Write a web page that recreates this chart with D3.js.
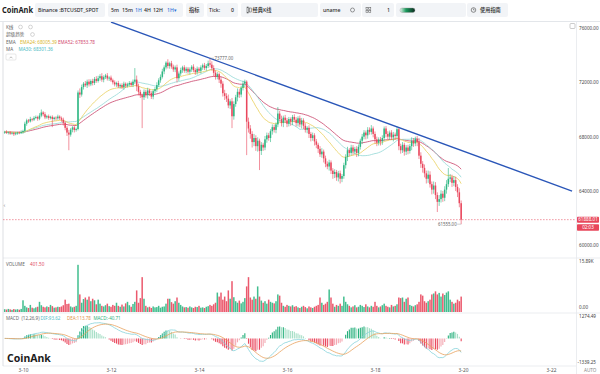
<!DOCTYPE html>
<html>
<head>
<meta charset="utf-8">
<script src="https://cdn.jsdelivr.net/npm/d3@7"></script>
<style>
body { margin: 0; background: #fff; }
svg { display: block; font-family: "Noto Sans", "Noto Sans CJK SC", sans-serif; }
</style>
</head>
<body>
<svg id="chart" width="600" height="374"></svg>
<script>
// BTCUSDT 1H candles, 2024-03-09 14:00 .. 2024-03-19 23:00
var firstOpen = 68300;
var closes = [
  68350,68280,68310,68220,68260,68180,68240,68300,68270,68340,
  68420,68950,69200,69120,69300,69250,69380,69450,69320,69550,
  69780,69650,69420,69510,69380,69460,69300,69400,69350,69480,69360,69250,
  69020,68650,68300,68150,68520,68680,68490,68560,
  71250,
  71100,71650,71900,71780,72050,71850,72100,71950,72250,72100,72300,
  72450,72200,72380,72500,72280,72350,72150,72000,71850,71950,71700,71800,71650,71900,71750,71850,71950,71800,72050,
  72200,71700,71300,71050,70900,
  71300,71050,71400,71200,70950,71350,71500,
  71800,72150,72400,72800,73100,73450,73200,73400,73150,72950,73100,72300,
  72650,72900,73100,72850,73000,72780,72950,73150,72900,72750,73000,72850,73100,73250,73050,73200,73400,
  73300,
  73050,72700,72400,72600,72200,71900,71200,71000,
  70800,70300,70600,69500,
  70400,70900,71300,71100,71600,71900,72050,
  69100,
  68600,68200,67600,67900,67300,67700,66950,67400,67200,
  67800,68100,67900,68400,68700,68500,68900,69700,
  69300,69000,69400,69200,68950,69300,69100,69450,69250,69000,
  69350,68900,69200,68800,
  68500,68650,68200,67900,68100,67650,
  67400,67100,66700,66900,66400,66000,65800,66100,65500,65250,
  65400,65000,65300,64900,65100,
  65900,66500,67000,66800,
  67200,66900,67100,66800,67250,
  67700,68000,68300,68100,68500,
  68350,68600,68200,
  67800,67550,67800,
  67650,67900,68600,
  68200,68000,68300,67950,68150,68050,
  68550,67300,
  67000,67400,66900,67200,66950,67300,
  67700,67500,67850,67600,
  66600,66000,65700,
  65300,64900,65200,64500,64100,64400,
  63700,63200,63400,
  63800,63500,64100,64500,
  64900,65000,
  64600,64800,64300,63900,
  63100,
  61888.01
];
var upWick = [
  80,120,60,100,70,90,110,60,80,120,
  90,150,120,100,160,80,130,110,90,180,
  220,100,150,90,120,80,110,70,100,140,
  90,120,150,110,130,200,120,90,140,100,
  150,300,180,120,200,150,180,120,160,140,
  200,180,150,220,130,120,180,100,150,120,
  140,100,160,110,130,150,100,120,140,110,
  160,850,300,200,150,120,180,150,200,120,
  150,130,160,200,150,180,200,150,100,250,
  120,180,150,140,200,150,180,120,160,140,
  130,150,120,180,140,160,120,150,130,180,
  150,200,377,250,200,180,150,120,200,180,
  250,200,300,150,250,200,180,250,200,150,
  200,150,100,300,250,200,300,200,250,150,
  200,150,250,200,180,150,200,180,150,480,
  200,250,150,200,180,150,120,150,200,180,
  150,200,180,150,200,120,180,150,200,150,
  180,150,200,250,150,200,180,200,150,180,
  200,150,180,200,150,180,200,250,150,200,
  180,150,200,180,150,200,180,150,200,180,
  250,150,180,200,150,180,200,150,180,200,
  150,180,200,150,200,150,180,200,150,180,
  200,150,250,200,150,200,300,250,200,250,
  200,300,250,200,300,250,200,300,250,200,
  250,300,790,250,200,300,250,200,300,200
];
var downWick = [
  100,80,120,90,70,130,80,100,90,70,
  120,100,150,110,80,130,100,90,150,110,
  120,150,130,100,140,110,600,120,150,110,
  130,150,200,180,250,1150,150,200,180,120,
  100,250,150,180,120,200,160,130,180,150,
  140,120,180,160,200,130,150,180,120,160,
  150,180,120,160,140,200,150,130,160,120,
  150,180,350,250,200,2270,200,180,250,200,
  180,200,150,200,150,180,120,200,150,180,
  200,150,180,200,300,200,180,200,150,180,
  150,200,180,150,200,180,150,200,180,150,
  200,150,200,180,250,200,180,250,300,250,
  300,250,200,250,870,250,200,300,250,200,
  200,250,2460,300,350,400,300,350,400,1410,
  300,250,200,250,200,300,250,200,250,200,
  200,250,300,200,250,200,300,250,200,250,
  250,200,300,250,200,250,300,250,200,300,
  250,300,200,250,300,250,200,300,250,350,
  300,250,300,350,250,200,250,300,250,200,
  250,200,300,250,200,250,200,300,250,200,
  200,250,300,250,200,300,250,200,250,200,
  250,200,300,250,200,300,250,200,300,250,
  250,200,300,250,200,300,250,300,350,300,
  350,300,250,350,300,300,750,300,250,300,
  250,300,200,250,300,250,300,350,300,333
];
var volumes = [
  900,800,1000,850,700,950,800,900,750,1000,
  3800,2000,1500,1300,2300,1400,1200,1500,1700,3300,
  2200,1700,1500,1800,1600,2300,1900,1400,1500,1700,
  1600,1800,2200,4000,2600,2700,1800,1500,1700,2000,
  15300,5700,3000,4200,4700,4000,5000,3500,4300,3800,
  2500,4000,2700,2000,1800,2200,2700,1900,1700,2300,
  2000,3000,2000,1700,2400,1800,2800,3300,2200,1700,
  2600,3300,7000,3000,4500,11300,4300,2000,1500,1700,
  1300,1800,1500,1600,2000,1400,1700,1800,2700,4300,
  4300,3200,2700,3500,4700,3000,2300,1800,1500,1600,
  1400,1800,1500,1300,1700,1600,2000,1400,1500,1300,
  1700,1900,2300,2000,2500,3000,6300,5000,6300,4000,
  5000,3500,7000,4300,10000,4800,3500,3000,3700,2800,
  3300,4500,8300,11300,4700,4000,5000,4300,8300,5000,
  3700,3000,3500,2700,4000,3300,3000,2800,3500,5700,
  5300,3000,2000,1700,2300,2000,1800,2200,1700,1900,
  1500,1300,1700,2000,1600,1200,1800,1500,1300,1700,
  2000,2300,4700,3000,2300,2700,3300,7300,4700,2700,
  1700,2300,2000,2700,2000,5000,3300,2500,2000,1500,
  1800,2200,1500,1700,2300,2000,1600,2500,1800,1500,
  2000,1700,3300,2000,1500,1800,2200,2700,2000,1700,
  1500,2300,1800,2000,2500,4700,4500,4700,3300,4300,
  4700,2300,2000,1800,2200,2500,3300,5700,5300,3500,
  3000,3500,4000,5700,6000,6700,5700,6200,5000,6000,
  5500,6300,6700,4000,3300,2700,3000,4000,3500,5000
];
var priceTicks = [76000, 72000, 68000, 64000, 60000];
var dateTicks = ["2024-03-10","2024-03-12","2024-03-14","2024-03-16","2024-03-18","2024-03-20","2024-03-22"];
var trendDates = ["2024-03-12T00:00","2024-03-22T11:30"];
var trendPrices = [76440, 63994];
var lastPrice = 61888.01, lowPrice = 61555.00, highPrice = 73777.00;

var UP = "#2eb783", DOWN = "#e9475d";
var svg = d3.select("#chart");
var parseDay = d3.timeParse("%Y-%m-%d"), parseMin = d3.timeParse("%Y-%m-%dT%H:%M");

var candles = closes.map(function(c, i) {
    var o = i == 0 ? firstOpen : closes[i-1];
    return {
        t: new Date(2024, 2, 9, 14 + i),
        o: o, c: c,
        h: Math.max(o, c) + upWick[i],
        l: Math.min(o, c) - downWick[i],
        v: volumes[i]
    };
});

var x = d3.scaleTime().domain([parseDay("2024-03-10"), parseDay("2024-03-20")]).range([23, 463]);
var yPrice = d3.scaleLinear().domain([60000, 76000]).range([245.3, 28]);
var yVol = d3.scaleLinear().domain([0, 15890]).range([312, 263]);
var yMacd = d3.scaleLinear().domain([-1339.25, 1274.49]).range([363, 315]);

// indicators
function ema(vals, n) {
    var k = 2 / (n + 1), out = [], prev = vals[0];
    vals.forEach(function(v, i) { prev = i == 0 ? v : v * k + prev * (1 - k); out.push(prev); });
    return out;
}
function sma(vals, n) {
    return vals.map(function(v, i) {
        var s = vals.slice(Math.max(0, i - n + 1), i + 1);
        return d3.mean(s);
    });
}
var ema24 = ema(closes, 24), ema52 = ema(closes, 52), ma30 = sma(closes, 30);
var ema12 = ema(closes, 12), ema26 = ema(closes, 26);
var dif = ema12.map(function(v, i) { return v - ema26[i]; });
var dea = ema(dif, 9);
var hist = dif.map(function(v, i) { return (v - dea[i]) * 2; });

// clip paths
var defs = svg.append("defs");
defs.append("clipPath").attr("id", "clipMain").append("rect").attr("x", 3).attr("y", 22).attr("width", 573).attr("height", 236);
defs.append("clipPath").attr("id", "clipMacd").append("rect").attr("x", 3).attr("y", 314).attr("width", 573).attr("height", 52);
var grad = defs.append("linearGradient").attr("id", "tog");
grad.append("stop").attr("offset", "0%").attr("stop-color", "#e8f6ee");
grad.append("stop").attr("offset", "40%").attr("stop-color", "#1a9a5c");
grad.append("stop").attr("offset", "100%").attr("stop-color", "#0d2a20");

// frame lines
var g_frame = svg.append("g").attr("stroke", "#e6e8ec").attr("stroke-width", 0.8);
g_frame.append("line").attr("x1", 0).attr("x2", 600).attr("y1", 21.5).attr("y2", 21.5).attr("stroke", "#dcdfe4");
g_frame.append("line").attr("x1", 3).attr("x2", 600).attr("y1", 258).attr("y2", 258);
g_frame.append("line").attr("x1", 3).attr("x2", 600).attr("y1", 313).attr("y2", 313);
g_frame.append("line").attr("x1", 3).attr("x2", 576).attr("y1", 366).attr("y2", 366);
g_frame.append("line").attr("x1", 576.5).attr("x2", 576.5).attr("y1", 22).attr("y2", 374);
g_frame.append("line").attr("x1", 3).attr("x2", 3).attr("y1", 22).attr("y2", 366).attr("stroke", "#d4d7dc");

// toolbar
var g_tool = svg.append("g");
g_tool.append("text").attr("x", 2).attr("y", 13).attr("font-size", 8.2).attr("font-weight", 700)
    .attr("textLength", 31).attr("lengthAdjust", "spacingAndGlyphs")
    .attr("fill", "#1c1c1c").text("CoinAnk");
[[35,70],[108,75],[186,18],[207,31],[241,77],[320,41],[362,32],[396,70],[467,41]].forEach(function(b) {
    g_tool.append("rect").attr("x", b[0]).attr("y", 3).attr("width", b[1]).attr("height", 14)
        .attr("rx", 2).attr("fill", "#f2f4f7");
});
var toolTxt = g_tool.append("g").attr("font-size", 5.2).attr("fill", "#2a2a2a").attr("font-weight", 500);
toolTxt.append("text").attr("x", 38).attr("y", 12).text("Binance :BTCUSDT_SPOT");
[["5m",111,"#2a2a2a"],["15m",122,"#2a2a2a"],["1H",135,"#2f6fd8"],["4H",144,"#2a2a2a"],["12H",153,"#2a2a2a"],["1H▾",167,"#2f6fd8"]]
    .forEach(function(d) { toolTxt.append("text").attr("x", d[1]).attr("y", 12).attr("fill", d[2]).text(d[0]); });
toolTxt.append("text").attr("x", 189).attr("y", 12).text("指标");
toolTxt.append("text").attr("x", 209).attr("y", 12).text("Tick:");
toolTxt.append("text").attr("x", 231).attr("y", 12).text("0");
g_tool.append("rect").attr("x", 247).attr("y", 7).attr("width", 1.6).attr("height", 6).attr("fill", "none").attr("stroke", "#444").attr("stroke-width", 0.5);
g_tool.append("rect").attr("x", 249.6).attr("y", 8).attr("width", 1.6).attr("height", 4).attr("fill", "none").attr("stroke", "#444").attr("stroke-width", 0.5);
toolTxt.append("text").attr("x", 252.5).attr("y", 12).text("经典K线");
toolTxt.append("text").attr("x", 323).attr("y", 12).text("uname");
g_tool.append("circle").attr("cx", 352.5).attr("cy", 10).attr("r", 2).attr("fill", "none").attr("stroke", "#555").attr("stroke-width", 0.6);
[[366,7.5],[368.8,7.5],[366,10.3],[368.8,10.3]].forEach(function(p) {
    g_tool.append("rect").attr("x", p[0]).attr("y", p[1]).attr("width", 2).attr("height", 2)
        .attr("fill", "none").attr("stroke", "#555").attr("stroke-width", 0.5);
});
toolTxt.append("text").attr("x", 387).attr("y", 12).text("1");
g_tool.append("rect").attr("x", 400).attr("y", 8).attr("width", 15).attr("height", 4.5).attr("rx", 2.2)
    .attr("fill", "url(#tog)").attr("stroke", "#999").attr("stroke-width", 0.4);
g_tool.append("circle").attr("cx", 473.5).attr("cy", 10).attr("r", 2.3).attr("fill", "none").attr("stroke", "#444").attr("stroke-width", 0.6);
g_tool.append("path").attr("d", "M473.5,8.6V10H474.7").attr("fill", "none").attr("stroke", "#444").attr("stroke-width", 0.5);
toolTxt.append("text").attr("x", 480).attr("y", 12).text("使用指南");

// main pane: moving averages
var g_main = svg.append("g").attr("clip-path", "url(#clipMain)");
function drawLine(g, vals, scale, color) {
    g.append("path").datum(vals)
        .attr("fill", "none").attr("stroke", color).attr("stroke-width", 0.8)
        .attr("d", d3.line().x(function(d, i) { return x(candles[i].t); }).y(function(d) { return scale(d); }));
}
drawLine(g_main, ema52, yPrice, "#c9436a");
drawLine(g_main, ma30, yPrice, "#93d8d6");
drawLine(g_main, ema24, yPrice, "#e9cf5c");

// candles
var g_candles = g_main.append("g");
candles.forEach(function(d) {
    var cx = x(d.t), col = d.c >= d.o ? UP : DOWN;
    g_candles.append("line").attr("x1", cx).attr("x2", cx)
        .attr("y1", yPrice(d.h)).attr("y2", yPrice(d.l))
        .attr("stroke", col).attr("stroke-width", 0.6);
    var top = yPrice(Math.max(d.o, d.c)), bot = yPrice(Math.min(d.o, d.c));
    g_candles.append("rect").attr("x", cx - 0.75).attr("width", 1.5)
        .attr("y", top).attr("height", Math.max(0.6, bot - top)).attr("fill", col);
});

// trend line (drawing)
var trend = trendDates.map(function(t, i) { return [x(parseMin(t)), yPrice(trendPrices[i])]; });
g_main.append("line").attr("x1", trend[0][0]).attr("y1", trend[0][1]).attr("x2", trend[1][0]).attr("y2", trend[1][1])
    .attr("stroke", "#2a56b8").attr("stroke-width", 1.3);

// last price line
svg.append("line").attr("x1", 3).attr("x2", 576).attr("y1", yPrice(lastPrice)).attr("y2", yPrice(lastPrice))
    .attr("stroke", "#e8596a").attr("stroke-width", 0.6).attr("stroke-dasharray", "1.6,1.4");

// high / low markers
var hiC = candles.reduce(function(a, b) { return b.h > a.h ? b : a; });
var loC = candles.reduce(function(a, b) { return b.l < a.l ? b : a; });
var g_mark = svg.append("g").attr("font-size", 4.4).attr("fill", "#666");
g_mark.append("line").attr("x1", x(hiC.t)).attr("x2", x(hiC.t) + 4).attr("y1", yPrice(highPrice)).attr("y2", yPrice(highPrice)).attr("stroke", "#888").attr("stroke-width", 0.4);
g_mark.append("text").attr("x", x(hiC.t) + 4.5).attr("y", yPrice(highPrice) + 1.5).text(highPrice.toFixed(2));
g_mark.append("line").attr("x1", x(loC.t) - 4).attr("x2", x(loC.t)).attr("y1", yPrice(lowPrice)).attr("y2", yPrice(lowPrice)).attr("stroke", "#888").attr("stroke-width", 0.4);
g_mark.append("text").attr("x", x(loC.t) - 4.5).attr("y", yPrice(lowPrice) + 1.5).attr("text-anchor", "end").text(lowPrice.toFixed(2));

// price axis
var yAxis = svg.append("g").attr("transform", "translate(577,0)")
    .call(d3.axisRight(yPrice).tickValues(priceTicks).tickSize(0).tickPadding(2).tickFormat(function(d) { return d.toFixed(2); }));
yAxis.select(".domain").remove();
yAxis.selectAll("text").attr("font-size", 4.6).attr("fill", "#444").attr("font-family", "Noto Sans, sans-serif");
svg.append("rect").attr("x", 570).attr("y", 23.5).attr("width", 5).attr("height", 5).attr("rx", 1)
    .attr("fill", "#fff").attr("stroke", "#999").attr("stroke-width", 0.5);

// last price boxes
var yl = yPrice(lastPrice);
svg.append("rect").attr("x", 577).attr("y", yl - 3).attr("width", 22).attr("height", 6.2).attr("rx", 0.8).attr("fill", "#e8475b");
svg.append("text").attr("x", 588).attr("y", yl + 1.6).attr("text-anchor", "middle").attr("font-size", 4.6).attr("fill", "#fff").text(lastPrice.toFixed(2));
svg.append("rect").attr("x", 577).attr("y", yl + 4.6).attr("width", 22).attr("height", 6.6).attr("rx", 0.8).attr("fill", "#e8475b");
svg.append("text").attr("x", 588).attr("y", yl + 9.4).attr("text-anchor", "middle").attr("font-size", 4.6).attr("fill", "#fff").text("02:03");

// main legend
var g_leg = svg.append("g").attr("font-size", 4.6).attr("fill", "#666");
g_leg.append("text").attr("x", 6).attr("y", 28.5).text("K线");
g_leg.append("text").attr("x", 6).attr("y", 36).text("超级趋势");
[[20.5,27],[30.5,27],[32.5,34.5]].forEach(function(p) {
    g_leg.append("circle").attr("cx", p[0]).attr("cy", p[1]).attr("r", 1.9).attr("fill", "none").attr("stroke", "#aaa").attr("stroke-width", 0.5);
});
g_leg.append("text").attr("x", 6).attr("y", 43.5).text("EMA");
g_leg.append("text").attr("x", 20).attr("y", 43.5).attr("fill", "#d9b52c").text("EMA24: 68005.39");
g_leg.append("text").attr("x", 58).attr("y", 43.5).attr("fill", "#d2486e").text("EMA52: 67853.78");
g_leg.append("text").attr("x", 6).attr("y", 51).text("MA");
g_leg.append("text").attr("x", 18.5).attr("y", 51).attr("fill", "#46b9c2").text("MA30: 68301.36");
g_leg.append("rect").attr("x", 6).attr("y", 54).attr("width", 10).attr("height", 6).attr("rx", 1).attr("fill", "#fff").attr("stroke", "#ccc").attr("stroke-width", 0.5);
g_leg.append("path").attr("d", "M9.5,58.3L11,56.8L12.5,58.3").attr("fill", "none").attr("stroke", "#777").attr("stroke-width", 0.5);
svg.append("text").attr("x", 3.5).attr("y", 207).attr("font-size", 6).attr("fill", "#888").text("‹");

// volume pane
var g_vol = svg.append("g");
candles.forEach(function(d) {
    g_vol.append("rect").attr("x", x(d.t) - 0.75).attr("width", 1.5)
        .attr("y", yVol(d.v)).attr("height", yVol(0) - yVol(d.v))
        .attr("fill", d.c >= d.o ? UP : DOWN).attr("opacity", 0.9);
});
svg.append("text").attr("x", 6).attr("y", 265.5).attr("font-size", 4.6).attr("fill", "#666").text("VOLUME");
svg.append("text").attr("x", 30).attr("y", 265.5).attr("font-size", 4.6).attr("fill", "#e0485e").text("401.50");
svg.append("text").attr("x", 579).attr("y", 262.5).attr("font-size", 4.6).attr("fill", "#444").text("15.89K");
svg.append("text").attr("x", 579).attr("y", 308.5).attr("font-size", 4.6).attr("fill", "#444").text("0.00");

// MACD pane
var g_macd = svg.append("g").attr("clip-path", "url(#clipMacd)");
hist.forEach(function(v, i) {
    var prev = i == 0 ? 0 : hist[i-1], col;
    if (v >= 0) col = v >= prev ? "#26b07c" : "#a6dfc6";
    else col = v <= prev ? "#ea4a5f" : "#f4a9b3";
    var cx = x(candles[i].t);
    g_macd.append("line").attr("x1", cx).attr("x2", cx).attr("y1", yMacd(0)).attr("y2", yMacd(v))
        .attr("stroke", col).attr("stroke-width", 1.1);
});
drawLine(g_macd, dif, yMacd, "#86d3da");
drawLine(g_macd, dea, yMacd, "#e8a25e");
var g_ml = svg.append("g").attr("font-size", 4.5);
g_ml.append("text").attr("x", 6).attr("y", 319.5).attr("fill", "#666").text("MACD");
g_ml.append("text").attr("x", 21.5).attr("y", 319.5).attr("fill", "#666").text("(12,26,9)");
g_ml.append("text").attr("x", 40.5).attr("y", 319.5).attr("fill", "#52bcc6").text("DIF:93.62");
g_ml.append("text").attr("x", 67).attr("y", 319.5).attr("fill", "#e0904a").text("DEA:113.78");
g_ml.append("text").attr("x", 93.5).attr("y", 319.5).attr("fill", "#2eae7a").text("MACD:-40.71");
svg.append("text").attr("x", 579).attr("y", 317.5).attr("font-size", 4.6).attr("fill", "#444").text("1274.49");
svg.append("text").attr("x", 577.5).attr("y", 363.5).attr("font-size", 4.6).attr("fill", "#444").text("-1339.25");

// watermark
svg.append("text").attr("x", 7).attr("y", 362).attr("font-size", 10.5).attr("font-weight", 700).attr("fill", "#1c1c1c").text("CoinAnk");

// time axis
var xAxis = svg.append("g").attr("transform", "translate(0,366)")
    .call(d3.axisBottom(x).tickValues(dateTicks.map(parseDay)).tickSize(0).tickPadding(2.5)
        .tickFormat(d3.timeFormat("%-m-%-d")));
xAxis.select(".domain").remove();
xAxis.selectAll("text").attr("font-size", 4.8).attr("fill", "#555").attr("font-family", "Noto Sans, sans-serif");
svg.append("text").attr("x", 584).attr("y", 372).attr("font-size", 4.6).attr("fill", "#888").text("AUTO");
</script>
</body>
</html>
